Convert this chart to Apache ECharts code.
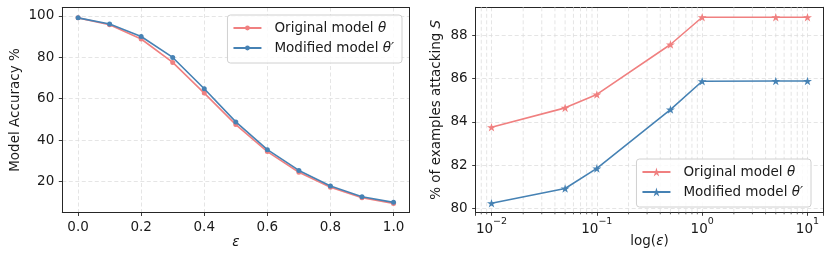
<!DOCTYPE html>
<html><head><meta charset="utf-8">
<script src="https://cdn.jsdelivr.net/npm/echarts@6/dist/echarts.min.js"></script>
<style>
html,body{margin:0;padding:0;background:#fff;width:831px;height:264px;overflow:hidden}
#c1{position:absolute;left:0;top:0;width:415px;height:264px}
#c2{position:absolute;left:415px;top:0;width:416px;height:264px}
</style>
</head><body><div id="c1"></div><div id="c2"></div>
<script>
// ---- data ----
const epsValues = [0.0, 0.1, 0.2, 0.3, 0.4, 0.5, 0.6, 0.7, 0.8, 0.9, 1.0];
const accOriginal = [99.0, 95.7, 88.8, 77.5, 62.7, 47.5, 34.5, 24.5, 17.3, 12.2, 9.5];
const accModified = [99.0, 96.0, 90.0, 79.9, 64.8, 48.8, 35.4, 25.4, 17.9, 12.7, 10.0];
const logEps = [0.01, 0.05, 0.1, 0.5, 1, 5, 10];
const attackOriginal = [83.75, 84.65, 85.27, 87.58, 88.84, 88.84, 88.84];
const attackModified = [80.24, 80.92, 81.85, 84.57, 85.88, 85.89, 85.89];
const seriesNames = ['Original model θ', 'Modified model θ′'];
const leftXTicks = [0, 0.2, 0.4, 0.6, 0.8, 1.0];
const leftYTicks = [20, 40, 60, 80, 100];
const rightYTicks = [80, 82, 84, 86, 88];

// ---- style ----
const FONT = "'DejaVu Sans', sans-serif";
const FS = 13.5;
const TXT = '#1a1a1a';
const RED = '#F08080';
const BLUE = '#4682B4';
const AX = '#262626';
const gridLine = { show: true, lineStyle: { color: '#dedede', width: 0.8, type: [4, 2.5] } };
const tick = { show: true, length: 3.5, inside: false, lineStyle: { color: AX, width: 0.9 } };
const frameLine = { show: true, onZero: false, lineStyle: { color: AX, width: 1 } };
const STAR = 'path://M50,0 L61.2,34.5 L97.6,34.5 L68.2,55.9 L79.4,90.5 L50,69.1 L20.6,90.5 L31.8,55.9 L2.4,34.5 L38.8,34.5 Z';

function legendFmt(name) {
  const i = name.indexOf('θ');
  return '{t|' + name.slice(0, i) + '}{m|' + name.slice(i) + '}';
}
const legendText = {
  fontFamily: FONT, fontSize: FS, color: TXT, padding: [0, 0, 0, 8],
  rich: {
    t: { fontFamily: FONT, fontSize: FS, color: TXT },
    m: { fontFamily: FONT, fontSize: FS, color: TXT, fontStyle: 'italic' }
  }
};
const legendBox = {
  orient: 'vertical', itemWidth: 28, itemGap: 6,
  backgroundColor: 'rgba(255,255,255,0.85)', borderColor: '#d0d0d0', borderWidth: 1, borderRadius: 3,
  padding: [6, 8, 8, 5], formatter: legendFmt, textStyle: legendText, selectedMode: false
};
const labelStyle = { fontFamily: FONT, fontSize: FS, color: TXT };
function frameAxis(pos, min, max, type) {
  return { type: type || 'value', position: pos, min: min, max: max, axisLine: frameLine,
    axisTick: { show: false }, axisLabel: { show: false }, splitLine: { show: false } };
}

// ---- left chart ----
const c1 = echarts.init(document.getElementById('c1'), null, { renderer: 'canvas' });
c1.setOption({
  animation: false,
  grid: { left: 62.3, right: 5.7, top: 7.5, bottom: 51.5, outerBoundsMode: 'none', containLabel: false },
  legend: Object.assign({}, legendBox, { itemHeight: 6, right: 13, top: 15, data: seriesNames }),
  xAxis: [{
    type: 'value', min: -0.05, max: 1.05, position: 'bottom',
    name: 'ε', nameLocation: 'middle', nameGap: 23, nameMoveOverlap: false,
    nameTextStyle: { fontFamily: FONT, fontSize: FS, color: TXT, fontStyle: 'italic' },
    axisLine: frameLine,
    axisTick: Object.assign({}, tick, { customValues: leftXTicks }),
    axisLabel: Object.assign({}, labelStyle, { margin: 8, customValues: leftXTicks, formatter: v => v.toFixed(1) }),
    splitLine: gridLine
  }, frameAxis('top', -0.05, 1.05)],
  yAxis: [{
    type: 'value', min: 5.1, max: 104, position: 'left',
    name: 'Model Accuracy %', nameLocation: 'middle', nameGap: 40, nameMoveOverlap: false,
    nameTextStyle: { fontFamily: FONT, fontSize: FS, color: TXT },
    axisLine: frameLine,
    axisTick: Object.assign({}, tick, { customValues: leftYTicks }),
    axisLabel: Object.assign({}, labelStyle, { margin: 8, customValues: leftYTicks, formatter: v => String(Math.round(v)) }),
    splitLine: gridLine
  }, frameAxis('right', 5.1, 104)],
  series: [
    { name: seriesNames[0], type: 'line', data: epsValues.map((x, i) => [x, accOriginal[i]]),
      symbol: 'circle', symbolSize: 5, showAllSymbol: true, color: RED, lineStyle: { width: 1.6, color: RED }, itemStyle: { color: RED }, z: 3 },
    { name: seriesNames[1], type: 'line', data: epsValues.map((x, i) => [x, accModified[i]]),
      symbol: 'circle', symbolSize: 5, showAllSymbol: true, color: BLUE, lineStyle: { width: 1.6, color: BLUE }, itemStyle: { color: BLUE }, z: 4 }
  ]
});

// ---- right chart ----
const xMinR = 0.00708, xMaxR = 14.13, yMinR = 79.82, yMaxR = 89.3;
const minorTicks = [];
for (let d = -3; d <= 1; d++) for (let m = 2; m <= 9; m++) {
  const v = +(m * Math.pow(10, d)).toPrecision(3);
  if (v > xMinR && v < xMaxR) minorTicks.push(v);
}
const c2 = echarts.init(document.getElementById('c2'), null, { renderer: 'canvas' });
c2.setOption({
  animation: false,
  grid: { left: 60.7, right: 7.7, top: 7.3, bottom: 51.7, outerBoundsMode: 'none', containLabel: false },
  legend: Object.assign({}, legendBox, { itemHeight: 11, right: 20, bottom: 57, data: seriesNames }),
  xAxis: [{
    type: 'log', logBase: 10, min: xMinR, max: xMaxR, position: 'bottom',
    name: 'log({e|ε})', nameLocation: 'middle', nameGap: 22, nameMoveOverlap: false,
    nameTextStyle: { fontFamily: FONT, fontSize: FS, color: TXT, rich: { e: { fontFamily: FONT, fontSize: FS, color: TXT, fontStyle: 'italic' } } },
    axisLine: frameLine,
    axisTick: tick,
    axisLabel: {
      margin: 4, fontFamily: FONT, fontSize: FS, color: TXT,
      formatter: v => {
        const e = Math.log10(v), r = Math.round(e);
        if (Math.abs(e - r) > 1e-6) return '';
        return '{b|10}{s|' + (r < 0 ? '−' + (-r) : String(r)) + '}';
      },
      rich: {
        b: { fontFamily: FONT, fontSize: FS, color: TXT, lineHeight: 20, verticalAlign: 'bottom' },
        s: { fontFamily: FONT, fontSize: 9.5, color: TXT, lineHeight: 11, verticalAlign: 'top' }
      }
    },
    splitLine: gridLine
  }, frameAxis('top', xMinR, xMaxR, 'log')],
  yAxis: [{
    type: 'value', min: yMinR, max: yMaxR, position: 'left',
    name: '% of examples attacking {i|S}', nameLocation: 'middle', nameGap: 32, nameMoveOverlap: false,
    nameTextStyle: { fontFamily: FONT, fontSize: FS, color: TXT, rich: { i: { fontFamily: FONT, fontSize: FS, color: TXT, fontStyle: 'italic' } } },
    axisLine: frameLine,
    axisTick: Object.assign({}, tick, { customValues: rightYTicks }),
    axisLabel: Object.assign({}, labelStyle, { margin: 8, customValues: rightYTicks, formatter: v => String(Math.round(v)) }),
    splitLine: gridLine
  }, frameAxis('right', yMinR, yMaxR)],
  series: [
    { type: 'custom', silent: true, z: 1, clip: false,
      data: minorTicks.map(v => [v, yMinR]),
      renderItem: (params, api) => {
        const x = api.coord([api.value(0), api.value(1)])[0];
        const cs = params.coordSys;
        return { type: 'group', children: [
          { type: 'line', shape: { x1: x, y1: cs.y, x2: x, y2: cs.y + cs.height }, style: { stroke: '#dedede', lineWidth: 0.8, lineDash: [4, 2.5] } },
          { type: 'line', shape: { x1: x, y1: cs.y + cs.height, x2: x, y2: cs.y + cs.height + 2 }, style: { stroke: AX, lineWidth: 0.7 } }
        ] };
      } },
    { name: seriesNames[0], type: 'line', data: logEps.map((x, i) => [x, attackOriginal[i]]),
      symbol: STAR, symbolSize: 9, symbolKeepAspect: true, showAllSymbol: true, color: RED,
      lineStyle: { width: 1.6, color: RED }, itemStyle: { color: RED }, z: 3 },
    { name: seriesNames[1], type: 'line', data: logEps.map((x, i) => [x, attackModified[i]]),
      symbol: STAR, symbolSize: 9, symbolKeepAspect: true, showAllSymbol: true, color: BLUE,
      lineStyle: { width: 1.6, color: BLUE }, itemStyle: { color: BLUE }, z: 4 }
  ]
});
</script>
</body></html>
